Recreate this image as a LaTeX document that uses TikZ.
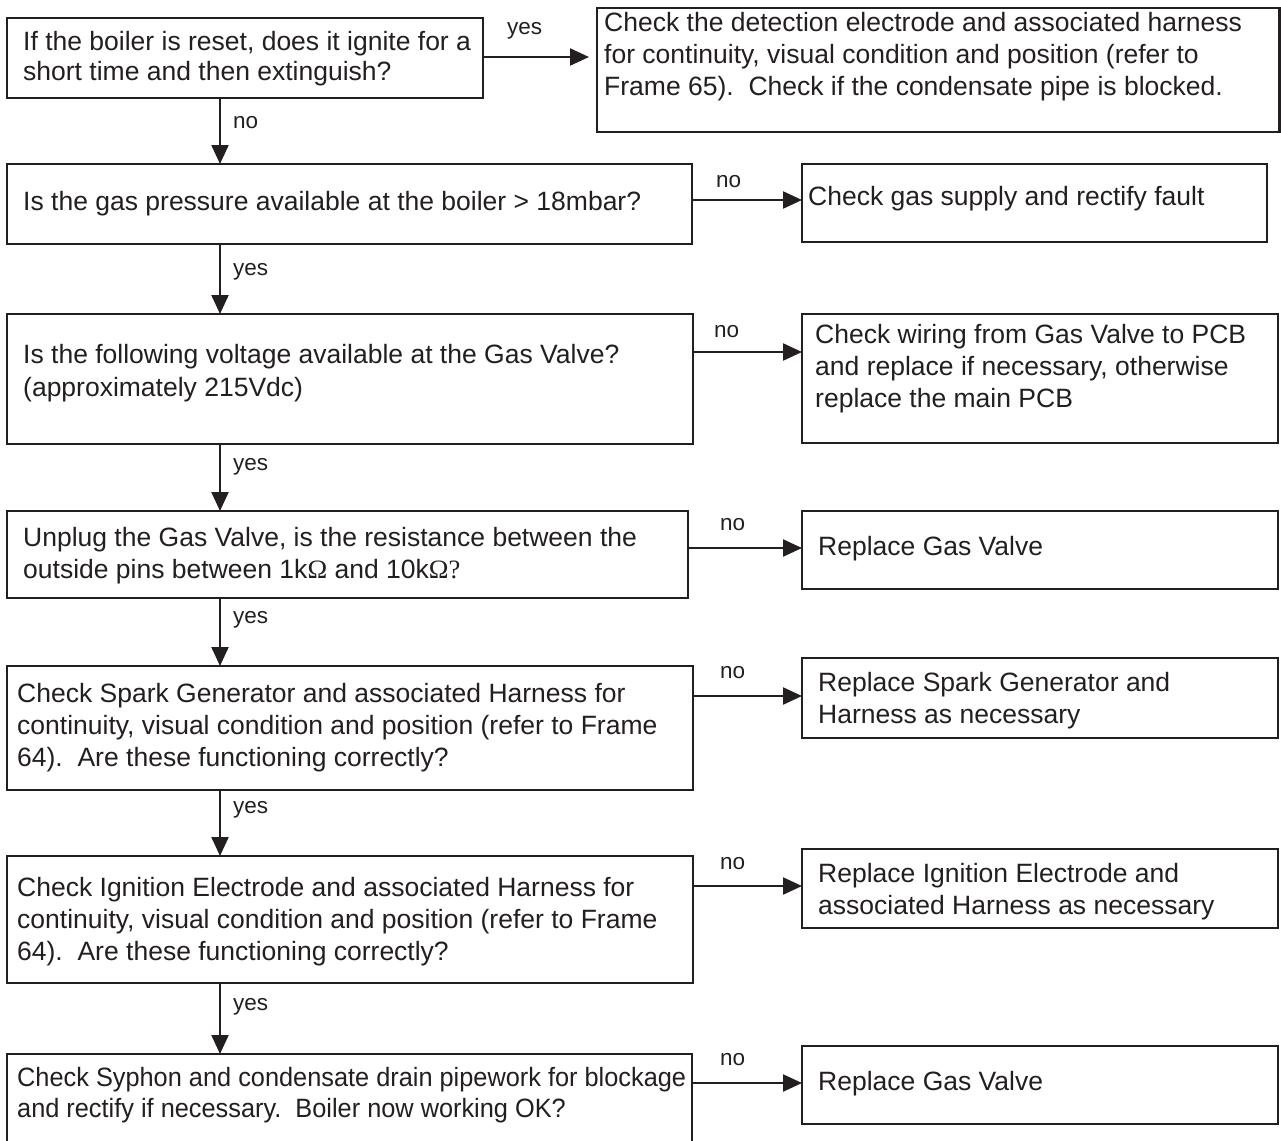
\documentclass[tikz,border=0pt]{standalone}
\usepackage{fontspec}
\setmainfont{Liberation Sans}
\newfontfamily\omfont{Liberation Serif}
\usetikzlibrary{arrows.meta}
\definecolor{ink}{RGB}{35,31,32}
\tikzset{
  bx/.style={draw=ink, line width=2.3pt, inner sep=0pt, outer sep=0pt, rectangle},
  txt/.style={anchor=north west, inner sep=0pt, align=left, text=ink, font=\fontsize{26.5}{32}\selectfont},
  lbl/.style={anchor=base west, inner sep=0pt, text=ink, font=\fontsize{22.5}{26}\selectfont},
  conn/.style={draw=ink, line width=2.2pt, -{Triangle[length=19pt,width=17pt]}}
}
\begin{document}
\begin{tikzpicture}[x=1pt,y=-1pt]
\useasboundingbox[fill=white] (0,0) rectangle (1281,1140);
% boxes
\node[bx, minimum width=476pt, minimum height=80pt] (b1) at (245,58) {};
\node[bx, minimum width=682.5pt, minimum height=124pt] (b2) at (938.25,70) {};
\node[bx, minimum width=685pt, minimum height=80pt] (b3) at (349.5,204) {};
\node[bx, minimum width=465pt, minimum height=78pt] (b4) at (1034.5,203) {};
\node[bx, minimum width=686pt, minimum height=130pt] (b5) at (350,379) {};
\node[bx, minimum width=476pt, minimum height=129pt] (b6) at (1040,378.5) {};
\node[bx, minimum width=681pt, minimum height=87pt] (b7) at (347.5,554.5) {};
\node[bx, minimum width=476pt, minimum height=78pt] (b8) at (1040,550) {};
\node[bx, minimum width=686pt, minimum height=124pt] (b9) at (350,728) {};
\node[bx, minimum width=476pt, minimum height=80pt] (b10) at (1040,698) {};
\node[bx, minimum width=686pt, minimum height=127pt] (b11) at (350,919.5) {};
\node[bx, minimum width=476pt, minimum height=79pt] (b12) at (1040,888.5) {};
\node[bx, minimum width=685pt, minimum height=106pt] (b13) at (349.5,1107) {};
\node[bx, minimum width=476pt, minimum height=78pt] (b14) at (1040,1085) {};
% texts
\node[txt, font=\fontsize{26.5}{30}\selectfont] (t1) at (23,30) {\rule{0pt}{20pt}If the boiler is reset, does it ignite for a\\short time and then extinguish?};
\node[txt] (t2) at (604,11) {\rule{0pt}{20pt}Check the detection electrode and associated harness\\for continuity, visual condition and position (refer to\\Frame 65).\ \ Check if the condensate pipe is blocked.};
\node[txt] (t3) at (23,190) {\rule{0pt}{20pt}Is the gas pressure available at the boiler > 18mbar?};
\node[txt] (t4) at (808,185) {\rule{0pt}{20pt}Check gas supply and rectify fault};
\node[txt, font=\fontsize{26.5}{33}\selectfont] (t5) at (23,343) {\rule{0pt}{20pt}Is the following voltage available at the Gas Valve?\\(approximately 215Vdc)};
\node[txt] (t6) at (815,323) {\rule{0pt}{20pt}Check wiring from Gas Valve to PCB\\and replace if necessary, otherwise\\replace the main PCB};
\node[txt] (t7) at (23,526) {\rule{0pt}{20pt}Unplug the Gas Valve, is the resistance between the\\outside pins between 1k{\omfont Ω} and 10k{\omfont Ω?}};
\node[txt] (t8) at (818,535) {\rule{0pt}{20pt}Replace Gas Valve};
\node[txt] (t9) at (17,682) {\rule{0pt}{20pt}Check Spark Generator and associated Harness for\\continuity, visual condition and position (refer to Frame\\64).\ \ Are these functioning correctly?};
\node[txt] (t10) at (818,671) {\rule{0pt}{20pt}Replace Spark Generator and\\Harness as necessary};
\node[txt] (t11) at (17,876) {\rule{0pt}{20pt}Check Ignition Electrode and associated Harness for\\continuity, visual condition and position (refer to Frame\\64).\ \ Are these functioning correctly?};
\node[txt] (t12) at (818,862) {\rule{0pt}{20pt}Replace Ignition Electrode and\\associated Harness as necessary};
\begin{scope}[shift={(17,1066)}, xscale=0.956]
\node[txt, transform shape, font=\fontsize{26.5}{31}\selectfont] (t13) at (0,0) {\rule{0pt}{20pt}Check Syphon and condensate drain pipework for blockage\\and rectify if necessary.\ \ Boiler now working OK?};
\end{scope}
\node[txt] (t14) at (818,1070) {\rule{0pt}{20pt}Replace Gas Valve};
% vertical connectors
\draw[conn] (b1.south -| 220,0) -- (b3.north -| 220,0);
\draw[conn] (b3.south -| 220,0) -- (b5.north -| 220,0);
\draw[conn] (b5.south -| 220,0) -- (b7.north -| 220,0);
\draw[conn] (b7.south -| 220,0) -- (b9.north -| 220,0);
\draw[conn] (b9.south -| 220,0) -- (b11.north -| 220,0);
\draw[conn] (b11.south -| 220,0) -- (b13.north -| 220,0);
% horizontal connectors
\draw[conn, shorten >=8pt] (b1.east |- 0,57) -- (b2.west |- 0,57);
\draw[conn] (b3.east |- 0,200) -- (b4.west |- 0,200);
\draw[conn] (b5.east |- 0,352) -- (b6.west |- 0,352);
\draw[conn] (b7.east |- 0,548) -- (b8.west |- 0,548);
\draw[conn] (b9.east |- 0,696) -- (b10.west |- 0,696);
\draw[conn] (b11.east |- 0,886) -- (b12.west |- 0,886);
\draw[conn] (b13.east |- 0,1083) -- (b14.west |- 0,1083);
% labels
\node[lbl] (l1) at (507,35) {yes};
\node[lbl] (l2) at (233,128) {no};
\node[lbl] (l3) at (716,187) {no};
\node[lbl] (l4) at (233,275) {yes};
\node[lbl] (l5) at (714,337) {no};
\node[lbl] (l6) at (233,470) {yes};
\node[lbl] (l7) at (720,530) {no};
\node[lbl] (l8) at (233,623) {yes};
\node[lbl] (l9) at (720,678) {no};
\node[lbl] (l10) at (233,813) {yes};
\node[lbl] (l11) at (720,869) {no};
\node[lbl] (l12) at (233,1010) {yes};
\node[lbl] (l13) at (720,1065) {no};
\end{tikzpicture}
\end{document}
